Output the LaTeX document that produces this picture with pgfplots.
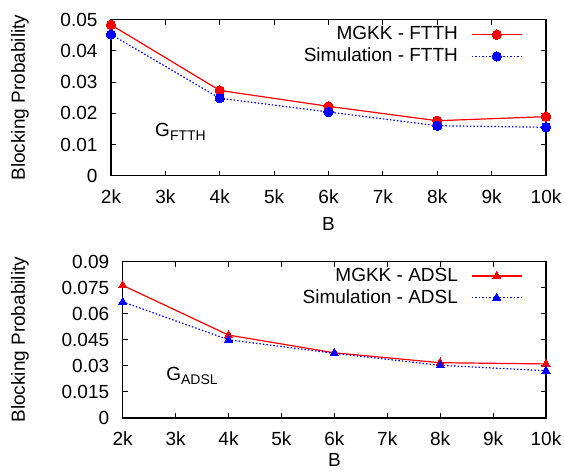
\documentclass[border=0pt]{standalone}
\usepackage{pgfplots}
\pgfplotsset{compat=1.18}
\usepackage{fontspec}
\setmainfont{Liberation Sans}
\pgfplotstableread{
x mgkk sim
2 0.0483 0.0452
4 0.0273 0.0248
6 0.0222 0.0204
8 0.0176 0.0160
10 0.0189 0.0155
}\ftth
\pgfplotstableread{
x mgkk sim
2 0.0763 0.0668
4 0.0477 0.0450
6 0.0375 0.0372
8 0.0318 0.0303
10 0.0311 0.0272
}\adsl
\pgfplotsset{
  myax/.style={
    scale only axis,
    anchor=south west,
    xmin=2, xmax=10,
    xtick={2,3,4,5,6,7,8,9,10},
    xticklabels={2k,3k,4k,5k,6k,7k,8k,9k,10k},
    tick align=inside,
    major tick length=5pt,
    xtick pos=both, ytick pos=both,
    axis line style={line width=1.1pt},
    every tick/.style={black, line width=0.9pt},
    /pgf/number format/assume math mode=true,
    scaled y ticks=false,
    yticklabel style={xshift=-7pt},
    xticklabel style={yshift=-7pt},
    ylabel={Blocking Probability},
    xlabel={B},
    clip=false,
    legend plot pos=right,
    legend cell align=right,
    legend style={draw=none, fill=none, inner sep=0pt, anchor=north east,
      row sep=5.4pt, column sep=13pt, nodes={inner sep=0pt}},
  },
  mgkk/.style={red, line width=1.2pt, solid},
  sim/.style={blue, line width=1.2pt, dash pattern=on 1.5pt off 2pt},
}
\begin{document}
\fontsize{19}{22}\selectfont
\begin{tikzpicture}
\useasboundingbox (0,0) rectangle (564pt,472pt);
\begin{axis}[myax,
  at={(111pt,296.3pt)}, width=435pt, height=156.2pt,
  ymin=0, ymax=0.05,
  ytick={0,0.01,0.02,0.03,0.04,0.05},
  yticklabels={0,0.01,0.02,0.03,0.04,0.05},
  ylabel style={at={(axis description cs:-0.209,0.5)}, anchor=center},
  xlabel style={at={(axis description cs:0.5,-0.309)}, anchor=center},
  legend style={at={(axis description cs:0.9465,0.956)}},
  legend image code/.code={\draw[mark repeat=2,mark phase=2,#1] plot coordinates {(0pt,0pt)(25.2pt,0pt)(50.4pt,0pt)};},
]
\addplot[mgkk, mark=*, mark size=4.7pt, mark options={solid, fill=red, draw=red, line width=0pt}] table[x=x,y=mgkk] {\ftth};
\addlegendentry{MGKK - FTTH}
\addplot[sim, mark=*, mark size=4.7pt, mark options={solid, fill=blue, draw=blue, line width=0pt}] table[x=x,y=sim] {\ftth};
\addlegendentry{Simulation - FTTH}
\node[anchor=base west, inner sep=0pt] at (axis cs:2.81,0.01248) {G\raisebox{-3.3pt}{\fontsize{14}{14}\selectfont FTTH}};
\end{axis}
\begin{axis}[myax,
  at={(122.7pt,54pt)}, width=423.3pt, height=156.5pt,
  ymin=0, ymax=0.09,
  ytick={0,0.015,0.03,0.045,0.06,0.075,0.09},
  yticklabels={0,0.015,0.03,0.045,0.06,0.075,0.09},
  ylabel style={at={(axis description cs:-0.2426,0.5)}, anchor=center},
  xlabel style={at={(axis description cs:0.5,-0.27)}, anchor=center, inner sep=0pt},
  legend style={at={(axis description cs:0.945,0.960)}},
  legend image code/.code={\draw[mark repeat=2,mark phase=2,#1] plot coordinates {(0pt,0pt)(25.2pt,0pt)(50.4pt,0pt)};},
]
\addplot[mgkk, mark=triangle*, mark size=4.8pt, mark options={solid, fill=red, draw=red, line width=0pt}] table[x=x,y=mgkk] {\adsl};
\addlegendentry{MGKK - ADSL}
\addplot[sim, mark=triangle*, mark size=4.8pt, mark options={solid, fill=blue, draw=blue, line width=0pt}] table[x=x,y=sim] {\adsl};
\addlegendentry{Simulation - ADSL}
\node[anchor=base west, inner sep=0pt] at (axis cs:2.82,0.02145) {G\raisebox{-3.3pt}{\fontsize{14}{14}\selectfont ADSL}};
\end{axis}
\end{tikzpicture}
\end{document}
